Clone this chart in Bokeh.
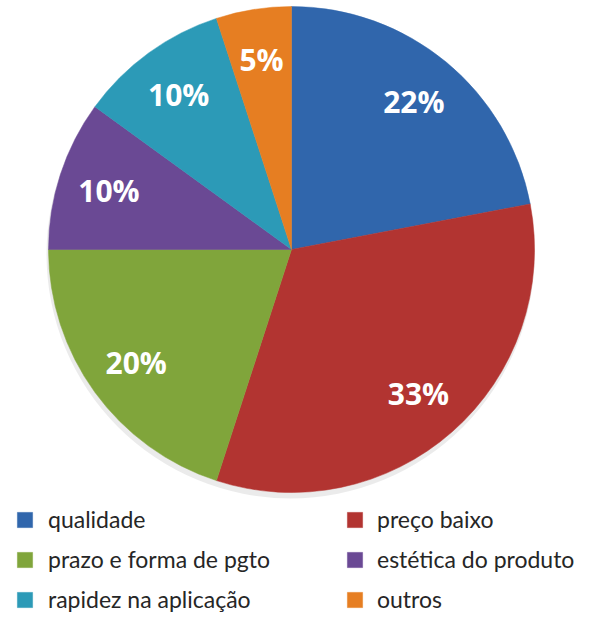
import math
from bokeh.plotting import figure
from bokeh.models import Legend, LegendItem, ColumnDataSource, Range1d
from bokeh.core.properties import value
from bokeh.embed import file_html
from bokeh.resources import INLINE

categories = ["qualidade", "preço baixo", "prazo e forma de pgto",
              "estética do produto", "rapidez na aplicação", "outros"]
values = [22, 33, 20, 10, 10, 5]
colors = ["#3066AC", "#B23431", "#80A53B", "#6A4994", "#2C9AB7", "#E67E22"]

W, H = 598, 614
cx, cy, R = 291, H - 249, 243

total = sum(values)
starts, ends, lx, ly, labels = [], [], [], [], []
acc = 0
for v in values:
    a0 = math.pi / 2 - 2 * math.pi * acc / total
    a1 = math.pi / 2 - 2 * math.pi * (acc + v) / total
    starts.append(a0)
    ends.append(a1)
    mid = (a0 + a1) / 2
    r = 0.79 * R
    lx.append(cx + r * math.cos(mid))
    ly.append(cy + r * math.sin(mid))
    labels.append(f"{v}%")
    acc += v

src = ColumnDataSource(dict(cat=categories, val=values, color=colors,
                            start=starts, end=ends, lx=lx, ly=ly, lab=labels))

p = figure(width=W, height=H, output_backend="svg", toolbar_location=None,
           x_range=Range1d(0, W), y_range=Range1d(0, H), min_border=0)
p.axis.visible = False
p.grid.visible = False
p.outline_line_color = None

# soft shadow
p.circle(x=cx - 1, y=cy - 5, radius=R + 1, fill_color="#000000", fill_alpha=0.08, line_color=None)

renderers = []
for i in range(len(values)):
    r = p.wedge(x=cx, y=cy, radius=R, start_angle=starts[i], end_angle=ends[i],
                direction="clock", fill_color=colors[i], line_color=colors[i], line_width=0.5)
    renderers.append(r)

p.text(x="lx", y="ly", text="lab", source=src, text_color="white",
       text_font=value("Open Sans"), text_font_style="bold", text_font_size="30px",
       text_align="center", text_baseline="middle")

def make_legend(idx, loc, standoff):
    return Legend(items=[LegendItem(label=categories[i], renderers=[renderers[i]]) for i in idx],
                  location=loc, orientation="vertical",
                  label_text_font="Lato",
                  label_text_font_size="23px", label_text_color="#262626",
                  glyph_width=19, glyph_height=19, spacing=12, padding=0, margin=0,
                  label_standoff=standoff, border_line_color=None, background_fill_alpha=0,
                  label_height=22)

p.add_layout(make_legend([0, 2, 4], (15, 1), 14), "center")
p.add_layout(make_legend([1, 3, 5], (345, 1), 13), "center")

open("out.html", "w").write(file_html(p, INLINE))
